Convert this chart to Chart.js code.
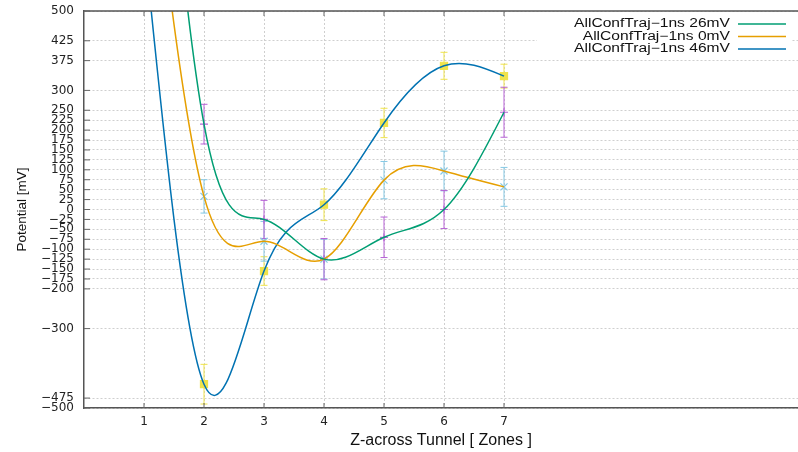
<!DOCTYPE html>
<html>
<head>
<meta charset="utf-8">
<script src="https://cdn.jsdelivr.net/npm/chart.js@4.4.1/dist/chart.umd.min.js"></script>
<style>
  html, body { margin: 0; padding: 0; background: #fff; }
</style>
</head>
<body>
<canvas id="chartPot" width="798" height="452"></canvas>
<script>
// zones along the tunnel and tick values
const zones = [1, 2, 3, 4, 5, 6, 7];
const xTicks = [1, 2, 3, 4, 5, 6, 7];
const yTicks = [500, 425, 375, 300, 250, 225, 200, 175, 150, 125, 100, 75, 50, 25, 0,
                -25, -50, -75, -100, -125, -150, -175, -200, -300, -475, -500];

const seriesNames = ['AllConfTraj\u22121ns 26mV', 'AllConfTraj\u22121ns 0mV', 'AllConfTraj\u22121ns 46mV'];

// potential per zone [mV] (zone 1 is above the plotted range) and error (half height of bar)
const pot26 = [1674, 215, -25, -125, -70, 0, 245];
const err26 = [50, 50, 48, 52, 51, 48, 63];
const pot0 = [1090, 33, -80, -125, 74, 97, 57];
const err0 = [45, 42, 50, 50, 47, 50, 49];
const pot46 = [680, -440, -155, 12, 218, 362, 336];
const err46 = [45, 50, 36, 40, 37, 34, 30];

function pts(vals) {
    return zones.map((z, i) => ({ x: z, y: vals[i] }));
}

function bars(vals, errs) {
    const out = [];
    zones.forEach((z, i) => {
        out.push({ x: z, y: vals[i] - errs[i] }, { x: z, y: vals[i] + errs[i] }, { x: z, y: null });
    });
    return out;
}

function curve(label, vals, color) {
    return {
        label: label, data: pts(vals), borderColor: color, backgroundColor: color,
        borderWidth: 1.5, pointRadius: 0, tension: 0.4, fill: false, order: 0, isCurve: true
    };
}

function errBar(vals, errs, color) {
    return {
        label: '', data: bars(vals, errs), borderColor: color, backgroundColor: color,
        borderWidth: 1, showLine: true, spanGaps: false, tension: 0,
        pointStyle: 'line', pointRadius: 3.5, pointBorderColor: color, pointBorderWidth: 1, order: 2
    };
}

function marker(vals, color, style, r) {
    return {
        label: '', data: pts(vals), showLine: false, borderColor: color, backgroundColor: color,
        pointStyle: style, pointRadius: r, pointBorderColor: color, pointBackgroundColor: color,
        pointBorderWidth: 1.2, order: 1
    };
}

const green = '#009e73', orange = '#e69f00', blue = '#0072b2';
const purpleBar = '#b763d6', cyanBar = '#84c8e4', yellowBar = '#efe34c';

// natural cubic spline (like gnuplot "smooth csplines") written into the line's bezier control points
const naturalSpline = {
    id: 'naturalSpline',
    beforeDatasetDraw(chart, args) {
        const ds = chart.data.datasets[args.index];
        const meta = args.meta;
        if (!ds.isCurve || !meta.dataset) return;
        meta.dataset.updateControlPoints(chart.chartArea, meta.iScale.axis);
        const p = meta.data;
        const n = p.length;
        const xs = p.map(e => e.x), ys = p.map(e => e.y);
        const h = [];
        for (let i = 0; i < n - 1; i++) h.push(xs[i + 1] - xs[i]);
        // tridiagonal solve for second derivatives, M[0] = M[n-1] = 0
        const M = new Array(n).fill(0);
        const a = [], b = [], c = [], r = [];
        for (let i = 1; i < n - 1; i++) {
            a.push(h[i - 1]);
            b.push(2 * (h[i - 1] + h[i]));
            c.push(h[i]);
            r.push(6 * ((ys[i + 1] - ys[i]) / h[i] - (ys[i] - ys[i - 1]) / h[i - 1]));
        }
        const m = b.length;
        for (let i = 1; i < m; i++) {
            const w = a[i] / b[i - 1];
            b[i] -= w * c[i - 1];
            r[i] -= w * r[i - 1];
        }
        const sol = new Array(m);
        sol[m - 1] = r[m - 1] / b[m - 1];
        for (let i = m - 2; i >= 0; i--) sol[i] = (r[i] - c[i] * sol[i + 1]) / b[i];
        for (let i = 0; i < m; i++) M[i + 1] = sol[i];
        for (let i = 0; i < n - 1; i++) {
            const hi = h[i];
            const s = (ys[i + 1] - ys[i]) / hi;
            const d0 = s - hi * (2 * M[i] + M[i + 1]) / 6;
            const d1 = s + hi * (M[i] + 2 * M[i + 1]) / 6;
            p[i].cp2x = xs[i] + hi / 3;
            p[i].cp2y = ys[i] + d0 * hi / 3;
            p[i + 1].cp1x = xs[i + 1] - hi / 3;
            p[i + 1].cp1y = ys[i + 1] - d1 * hi / 3;
        }
        meta.dataset._path = undefined;
    }
};

const frame = {
    id: 'frame',
    afterDatasetsDraw(chart) {
        const { ctx, chartArea: a, scales } = chart;
        ctx.save();
        // top border and inward ticks
        ctx.strokeStyle = '#555';
        ctx.lineWidth = 1.5;
        ctx.beginPath();
        ctx.moveTo(a.left, a.top);
        ctx.lineTo(a.right, a.top);
        ctx.stroke();
        ctx.lineWidth = 1;
        ctx.strokeStyle = '#666';
        ctx.beginPath();
        xTicks.forEach(v => {
            const px = scales.x.getPixelForValue(v);
            ctx.moveTo(px, a.bottom); ctx.lineTo(px, a.bottom - 5);
            ctx.moveTo(px, a.top); ctx.lineTo(px, a.top + 5);
        });
        yTicks.forEach(v => {
            const py = scales.y.getPixelForValue(v);
            ctx.moveTo(a.left, py); ctx.lineTo(a.left + 6, py);
        });
        ctx.stroke();

        // key box
        ctx.fillStyle = '#fff';
        ctx.fillRect(537, a.top + 1, 255, 45);
        const rows = [24, 36.5, 49];
        const curves = chart.data.datasets.filter(d => d.isCurve);
        curves.forEach((d, i) => {
            ctx.save();
            ctx.translate(730, rows[i]);
            ctx.scale(1.3, 1);
            ctx.font = '12px "Liberation Sans", Arial, sans-serif';
            ctx.fillStyle = '#111';
            ctx.textAlign = 'right';
            ctx.textBaseline = 'middle';
            ctx.fillText(d.label, 0, 0);
            ctx.restore();
            ctx.strokeStyle = d.borderColor;
            ctx.lineWidth = 1.5;
            ctx.beginPath();
            ctx.moveTo(738, rows[i]);
            ctx.lineTo(786, rows[i]);
            ctx.stroke();
        });
        ctx.restore();
    }
};

const ctx = document.getElementById('chartPot').getContext('2d');
new Chart(ctx, {
    type: 'line',
    data: {
        datasets: [
            curve(seriesNames[0], pot26, green),
            curve(seriesNames[1], pot0, orange),
            curve(seriesNames[2], pot46, blue),
            marker(pot26, purpleBar, 'cross', 4),
            marker(pot0, cyanBar, 'crossRot', 5),
            marker(pot46, yellowBar, 'rect', 5),
            errBar(pot26, err26, purpleBar),
            errBar(pot0, err0, cyanBar),
            errBar(pot46, err46, yellowBar)
        ]
    },
    options: {
        responsive: false,
        animation: false,
        devicePixelRatio: 1,
        layout: { autoPadding: false, padding: { top: 11, right: 0, left: 0, bottom: 0 } },
        elements: { line: { capBezierPoints: false } },
        plugins: {
            legend: { display: false },
            tooltip: { enabled: false }
        },
        scales: {
            x: {
                type: 'linear',
                min: 0,
                max: 11.9,
                afterBuildTicks: s => { s.ticks = xTicks.map(v => ({ value: v })); },
                afterFit: s => { s.height = 44; s.paddingLeft = 0; s.paddingRight = 0; },
                ticks: { color: '#222', padding: 7, font: { family: 'DejaVu Sans', size: 12 } },
                grid: { color: '#cfcfcf', lineWidth: 1, drawTicks: false },
                border: { display: true, color: '#555', width: 1.5, dash: [2, 2] },
                title: {
                    display: true, text: 'Z-across Tunnel [ Zones ]', color: '#111',
                    font: { family: 'Liberation Sans', size: 16 }, padding: { top: 0, bottom: 2 }
                }
            },
            y: {
                type: 'linear',
                min: -500,
                max: 500,
                afterBuildTicks: s => { s.ticks = yTicks.map(v => ({ value: v })); },
                afterFit: s => { s.width = 84; s.paddingTop = 0; s.paddingBottom = 0; },
                ticks: {
                    autoSkip: false, color: '#222', padding: 10,
                    font: { family: 'DejaVu Sans', size: 12 },
                    callback: v => (v < 0 ? '\u2212' + Math.abs(v) : '' + v)
                },
                grid: { color: '#cfcfcf', lineWidth: 1, drawTicks: false },
                border: { display: true, color: '#555', width: 1.5, dash: [2, 2] },
                title: {
                    display: true, text: 'Potential [mV]', color: '#111',
                    font: { family: 'Liberation Sans', size: 13.5 }, padding: { top: 14, bottom: 0 }
                }
            }
        }
    },
    plugins: [naturalSpline, frame]
});
</script>
</body>
</html>
